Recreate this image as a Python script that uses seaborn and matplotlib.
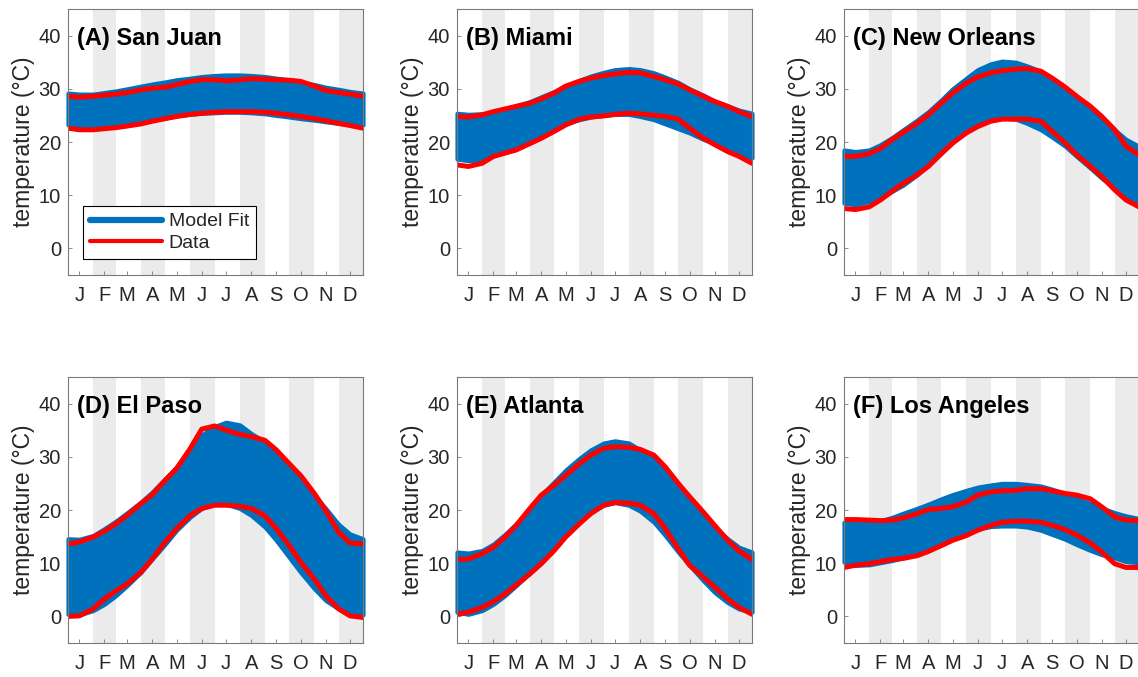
import matplotlib
matplotlib.use("Agg")
import matplotlib.pyplot as plt
from matplotlib.lines import Line2D
import seaborn as sns
import pandas as pd

# ---------------- data ----------------
days = [1, 15, 32, 46, 60, 74, 91, 105, 121, 135, 152, 166, 182, 196, 213, 227,
        244, 258, 274, 288, 305, 319, 335, 349, 365]
month_starts = [1, 32, 60, 91, 121, 152, 182, 213, 244, 274, 305, 335, 366]
month_mid = [15, 46, 74, 105, 135, 166, 196, 227, 258, 288, 319, 349]
month_labels = ["J", "F", "M", "A", "M", "J", "J", "A", "S", "O", "N", "D"]
yticks = [0, 10, 20, 30, 40]

titles = ["(A) San Juan", "(B) Miami", "(C) New Orleans",
          "(D) El Paso", "(E) Atlanta", "(F) Los Angeles"]

sanjuan_data_hi = [28.6, 28.4, 28.6, 28.8, 29.0, 29.3, 29.8, 30.1, 30.3, 30.8, 31.4, 31.7, 31.7,
                   31.5, 31.7, 31.9, 31.8, 31.7, 31.6, 31.4, 30.5, 29.7, 29.3, 29.0, 28.6]
sanjuan_data_lo = [22.6, 22.3, 22.3, 22.5, 22.7, 23.0, 23.4, 23.9, 24.4, 24.8, 25.2, 25.4, 25.6,
                   25.7, 25.7, 25.7, 25.6, 25.4, 25.1, 24.8, 24.4, 24.0, 23.5, 23.1, 22.6]
sanjuan_model_hi = [29.2, 29.0, 29.0, 29.3, 29.6, 30.0, 30.5, 30.9, 31.3, 31.7, 32.0, 32.3, 32.5,
                    32.6, 32.6, 32.5, 32.3, 32.0, 31.7, 31.3, 30.8, 30.3, 29.9, 29.5, 29.2]
sanjuan_model_lo = [23.2, 22.8, 22.7, 22.8, 23.0, 23.3, 23.7, 24.1, 24.5, 24.9, 25.2, 25.4, 25.5,
                    25.6, 25.6, 25.5, 25.3, 25.0, 24.7, 24.4, 24.1, 23.8, 23.5, 23.3, 23.2]

miami_data_hi = [24.8, 24.7, 25.1, 25.7, 26.2, 26.7, 27.3, 28.1, 29.2, 30.5, 31.4, 32.0, 32.5,
                 32.8, 33.1, 33.0, 32.3, 31.7, 30.9, 29.8, 28.6, 27.6, 26.7, 25.7, 24.8]
miami_data_lo = [15.7, 15.4, 16.0, 17.3, 17.9, 18.5, 19.7, 20.7, 22.0, 23.2, 24.3, 24.7, 24.9,
                 25.2, 25.4, 25.3, 25.0, 24.8, 24.3, 22.6, 20.7, 19.5, 18.2, 17.3, 16.0]
miami_model_hi = [25.4, 25.2, 25.3, 25.7, 26.2, 26.8, 27.6, 28.5, 29.5, 30.6, 31.6, 32.4, 33.1,
                  33.6, 33.8, 33.6, 33.0, 32.2, 31.2, 30.0, 28.8, 27.7, 26.8, 26.0, 25.4]
miami_model_lo = [16.8, 16.5, 16.6, 17.4, 18.2, 18.8, 19.9, 21.0, 22.3, 23.4, 24.2, 24.7, 25.0,
                  25.2, 25.2, 24.8, 24.2, 23.4, 22.5, 21.7, 20.5, 19.7, 18.6, 17.8, 17.0]

neworleans_data_hi = [17.3, 17.3, 17.8, 18.8, 20.4, 21.8, 23.5, 25.1, 27.3, 29.2, 31.1, 32.2, 33.0,
                      33.4, 33.7, 33.8, 33.3, 32.0, 30.3, 28.6, 26.7, 24.8, 22.3, 19.2, 17.6]
neworleans_data_lo = [7.5, 7.3, 7.8, 9.1, 10.7, 12.2, 13.8, 15.4, 17.8, 19.8, 21.7, 22.9, 23.9,
                      24.3, 24.3, 24.3, 23.9, 22.0, 19.8, 17.6, 15.4, 13.5, 11.0, 9.1, 7.8]
neworleans_model_hi = [18.5, 18.2, 18.5, 19.5, 20.8, 22.3, 24.1, 25.7, 27.9, 30.0, 32.0, 33.6, 34.7,
                       35.2, 35.0, 34.3, 33.3, 31.9, 30.1, 28.4, 26.4, 24.5, 22.3, 20.5, 19.2]
neworleans_model_lo = [8.5, 8.2, 8.8, 9.4, 10.7, 11.9, 13.8, 15.7, 17.9, 19.9, 22.0, 23.2, 24.1,
                       24.5, 24.3, 23.5, 22.3, 20.9, 19.2, 17.3, 15.1, 13.2, 11.3, 9.7, 8.5]

elpaso_data_hi = [13.6, 14.0, 14.9, 16.0, 17.4, 19.0, 21.2, 22.9, 25.6, 27.8, 31.6, 35.2, 35.8,
                  35.0, 34.2, 33.8, 33.1, 31.3, 28.7, 26.5, 23.1, 19.9, 15.8, 13.8, 13.6]
elpaso_data_lo = [0.0, 0.1, 1.4, 3.3, 4.8, 6.1, 8.3, 10.8, 14.0, 16.5, 19.0, 20.3, 20.9,
                  20.9, 20.7, 20.3, 18.9, 16.5, 13.3, 10.2, 7.0, 3.9, 1.4, 0.1, -0.2]
elpaso_model_hi = [14.6, 14.5, 15.2, 16.5, 17.9, 19.5, 21.5, 23.4, 25.9, 28.1, 31.3, 34.1, 35.7,
                   36.5, 36.0, 34.4, 32.8, 31.0, 28.6, 26.0, 22.8, 20.3, 17.3, 15.5, 14.6]
elpaso_model_lo = [0.4, 0.3, 1.1, 2.3, 3.9, 5.8, 8.3, 10.8, 13.6, 16.2, 18.7, 20.3, 21.1,
                   21.1, 20.3, 19.0, 16.8, 14.3, 11.1, 8.3, 5.2, 3.0, 1.4, 0.4, 0.3]

atlanta_data_hi = [10.7, 10.8, 11.8, 13.0, 14.9, 17.1, 20.3, 22.8, 24.7, 26.5, 28.7, 30.3, 31.6,
                   31.9, 31.8, 31.4, 30.3, 28.1, 25.0, 22.5, 19.6, 17.1, 14.3, 12.3, 10.7]
atlanta_data_lo = [0.4, 0.8, 1.7, 2.8, 4.2, 5.9, 8.0, 9.9, 12.4, 14.9, 17.4, 19.3, 20.9,
                   21.4, 21.3, 20.9, 19.3, 16.5, 12.7, 9.6, 7.4, 5.5, 3.3, 1.7, 0.4]
atlanta_model_hi = [12.1, 11.9, 12.4, 13.6, 15.4, 17.4, 20.3, 22.8, 25.3, 27.5, 29.7, 31.3, 32.6,
                    33.0, 32.6, 31.3, 29.4, 27.2, 24.3, 21.8, 19.0, 16.8, 14.6, 13.0, 12.1]
atlanta_model_lo = [0.8, 0.4, 1.1, 2.3, 3.9, 5.8, 8.2, 10.3, 13.0, 15.3, 17.7, 19.6, 20.9,
                    21.4, 20.9, 19.8, 17.7, 15.2, 12.1, 9.6, 6.7, 4.5, 2.6, 1.4, 0.8]

losangeles_data_hi = [18.2, 18.2, 18.1, 18.0, 18.1, 18.5, 19.3, 20.1, 20.3, 20.6, 21.5, 22.8, 23.4,
                      23.6, 23.7, 24.0, 24.0, 23.6, 23.1, 22.8, 22.1, 20.6, 18.7, 18.1, 18.0]
losangeles_data_lo = [9.2, 9.6, 9.9, 10.3, 10.7, 10.9, 11.4, 12.2, 13.3, 14.3, 15.2, 16.2, 17.1,
                      17.7, 17.9, 17.9, 17.7, 17.1, 16.3, 15.3, 13.8, 12.1, 9.9, 9.2, 9.2]
losangeles_model_hi = [17.7, 17.5, 17.7, 18.0, 18.6, 19.4, 20.3, 21.1, 22.1, 22.9, 23.7, 24.3, 24.7,
                       25.0, 25.0, 24.8, 24.5, 23.9, 23.1, 22.2, 21.2, 20.4, 19.5, 18.9, 18.4]
losangeles_model_lo = [10.2, 9.6, 9.7, 10.1, 10.5, 11.0, 11.8, 12.7, 13.8, 14.8, 15.8, 16.4, 16.9,
                       17.0, 17.0, 16.8, 16.2, 15.4, 14.5, 13.5, 12.4, 11.6, 11.0, 10.3, 10.1]

cities = [
    (sanjuan_data_hi, sanjuan_data_lo, sanjuan_model_hi, sanjuan_model_lo),
    (miami_data_hi, miami_data_lo, miami_model_hi, miami_model_lo),
    (neworleans_data_hi, neworleans_data_lo, neworleans_model_hi, neworleans_model_lo),
    (elpaso_data_hi, elpaso_data_lo, elpaso_model_hi, elpaso_model_lo),
    (atlanta_data_hi, atlanta_data_lo, atlanta_model_hi, atlanta_model_lo),
    (losangeles_data_hi, losangeles_data_lo, losangeles_model_hi, losangeles_model_lo),
]

# ---------------- style ----------------
sns.set_theme(style="white")
plt.rcParams["font.family"] = ["Liberation Sans", "DejaVu Sans"]

BLUE = "#0072BD"
RED = "#FF0000"
STRIPE = "#ebebeb"
SPINE = "#7a7a7a"
TXT = "#262626"

W, H = 1138, 677
fig = plt.figure(figsize=(W / 100, H / 100), dpi=100)

lefts = [68, 457, 844]
tops = [9, 377]
aw, ah = 295, 266

for i, (dhi, dlo, mhi, mlo) in enumerate(cities):
    r, c = divmod(i, 3)
    l = lefts[c]
    t = tops[r]
    ax = fig.add_axes([l / W, 1 - (t + ah) / H, aw / W, ah / H])

    # month stripes (Feb, Apr, Jun, Aug, Oct, Dec)
    for m in range(1, 12, 2):
        ax.axvspan(month_starts[m], month_starts[m + 1], color=STRIPE, lw=0, zorder=0)

    # model fit band
    ax.fill_between(days, mlo, mhi, facecolor=BLUE, edgecolor=BLUE, lw=3.0,
                    joinstyle="round", capstyle="round", zorder=2, clip_on=False)

    # data lines
    df = pd.DataFrame({"day": days, "hi": dhi, "lo": dlo})
    sns.lineplot(data=df, x="day", y="hi", ax=ax, color=RED, lw=3.6,
                 estimator=None, sort=False, zorder=3, solid_capstyle="round",
                 solid_joinstyle="round")
    sns.lineplot(data=df, x="day", y="lo", ax=ax, color=RED, lw=3.6,
                 estimator=None, sort=False, zorder=3, solid_capstyle="round",
                 solid_joinstyle="round")

    ax.set_xlim(1, 365)
    ax.set_ylim(-5, 45)
    ax.set_xticks(month_mid)
    ax.set_xticklabels(month_labels)
    ax.set_yticks(yticks)
    ax.set_xlabel("")
    ax.set_ylabel("temperature (\u00b0C)", fontsize=16.5, color=TXT, labelpad=3)
    ax.tick_params(axis="x", direction="in", length=3, width=0.6, color=SPINE,
                   labelsize=14.5, labelcolor=TXT, pad=8, bottom=True)
    ax.tick_params(axis="y", direction="in", length=3, width=0.6, color=SPINE,
                   labelsize=14.5, labelcolor=TXT, pad=5, left=True)
    for s in ax.spines.values():
        s.set_color(SPINE)
        s.set_linewidth(0.8)
        s.set_zorder(5)

    ax.text(0.03, 0.888, titles[i], transform=ax.transAxes, fontsize=17,
            fontweight="bold", color="black", va="center", ha="left", zorder=6)

    if i == 0:
        handles = [Line2D([0], [0], color=BLUE, lw=4.5),
                   Line2D([0], [0], color=RED, lw=3.0)]
        leg = ax.legend(handles, ["Model Fit", "Data"], loc="lower left",
                        bbox_to_anchor=(0.051, 0.060), borderaxespad=0,
                        fontsize=14, frameon=True, fancybox=False,
                        edgecolor="black", framealpha=1, handlelength=3.7,
                        handletextpad=0.35, labelspacing=0.22, borderpad=0.35)
        leg.get_frame().set_linewidth(0.8)
        leg.set_zorder(7)

fig.savefig("out.png", dpi=100)
